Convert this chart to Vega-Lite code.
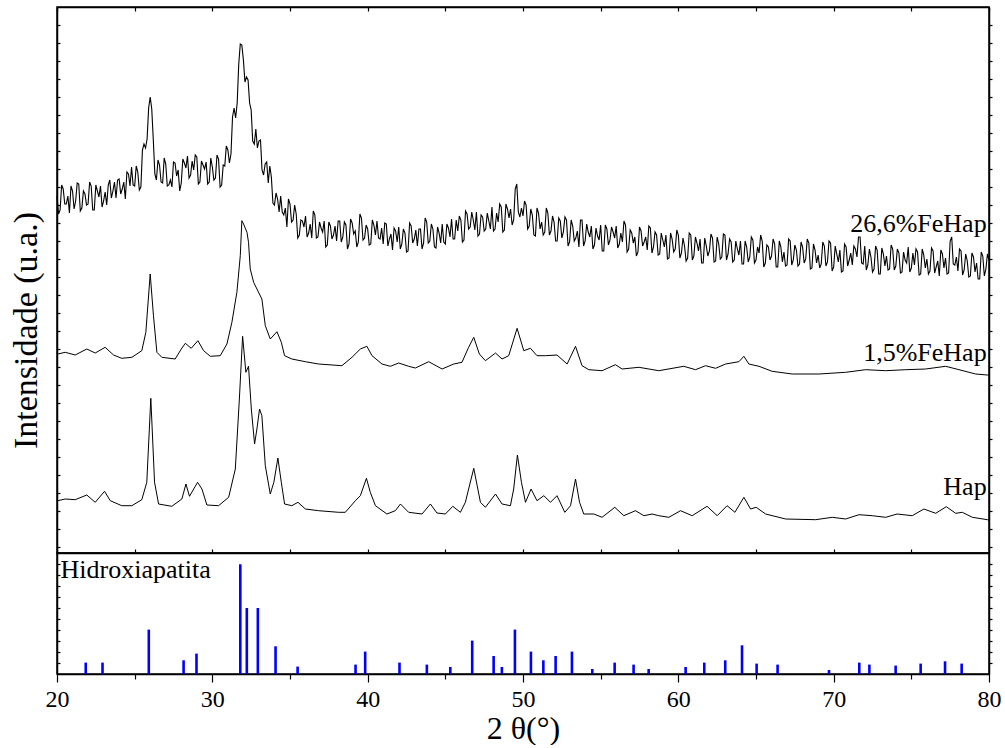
{
  "$schema": "https://vega.github.io/schema/vega-lite/v6.json",
  "background": "white",
  "padding": {"left": 8, "top": 5, "right": 10, "bottom": 0},
  "config": {
    "font": "Liberation Serif",
    "view": {"stroke": "black", "strokeWidth": 1.5},
    "axis": {"grid": false, "domainColor": "black", "domainWidth": 1.5, "tickColor": "black", "tickWidth": 1.2, "labelColor": "black", "titleColor": "black", "labelFont": "Liberation Serif", "titleFont": "Liberation Serif", "titleFontWeight": "normal"}
  },
  "datasets": {
    "hap": [
      {"t":20.0,"i":52},{"t":20.05,"i":52.3},{"t":20.53,"i":54},{"t":21.17,"i":53.3},{"t":21.92,"i":58},{"t":22.46,"i":50.7},{"t":23.06,"i":61.7},{"t":23.43,"i":52.3},{"t":24.17,"i":47.3},{"t":24.82,"i":47.3},{"t":25.46,"i":53.3},{"t":25.78,"i":70.7},{"t":26.04,"i":154.7},{"t":26.28,"i":70.7},{"t":26.54,"i":49},{"t":27.39,"i":46.7},{"t":28.04,"i":54},{"t":28.30,"i":69},{"t":28.53,"i":56.7},{"t":29.05,"i":70.7},{"t":29.33,"i":64},{"t":29.65,"i":48},{"t":30.40,"i":47.3},{"t":31.05,"i":55.7},{"t":31.48,"i":84},{"t":31.74,"i":154},{"t":31.95,"i":216.7},{"t":32.16,"i":180.7},{"t":32.33,"i":186.7},{"t":32.51,"i":144},{"t":32.72,"i":109},{"t":32.87,"i":124},{"t":33.04,"i":144},{"t":33.19,"i":137.3},{"t":33.41,"i":87.3},{"t":33.73,"i":59},{"t":33.96,"i":70.7},{"t":34.22,"i":95},{"t":34.44,"i":70.7},{"t":34.65,"i":49},{"t":35.12,"i":47.3},{"t":35.51,"i":50.7},{"t":35.99,"i":44},{"t":36.84,"i":42.3},{"t":38.13,"i":40.7},{"t":38.56,"i":40.7},{"t":39.21,"i":52.3},{"t":39.53,"i":57.3},{"t":39.92,"i":74.7},{"t":40.17,"i":60.7},{"t":40.50,"i":47.3},{"t":41.24,"i":39},{"t":41.78,"i":42.3},{"t":42.11,"i":49},{"t":42.64,"i":40.7},{"t":43.50,"i":39},{"t":44.04,"i":49},{"t":44.46,"i":40},{"t":45.00,"i":39},{"t":45.48,"i":46.7},{"t":45.97,"i":40.7},{"t":46.29,"i":50.7},{"t":46.83,"i":84.7},{"t":47.26,"i":50.7},{"t":47.58,"i":45.7},{"t":48.23,"i":59},{"t":48.65,"i":49},{"t":49.19,"i":47.3},{"t":49.40,"i":64},{"t":49.64,"i":98},{"t":49.90,"i":70.7},{"t":50.16,"i":50.7},{"t":50.52,"i":64},{"t":50.90,"i":52.3},{"t":51.34,"i":57.3},{"t":51.77,"i":50.7},{"t":52.19,"i":57.3},{"t":52.69,"i":40.7},{"t":53.06,"i":47.3},{"t":53.38,"i":74},{"t":53.64,"i":50.7},{"t":53.91,"i":39},{"t":54.56,"i":39},{"t":55.09,"i":35.7},{"t":55.91,"i":45.7},{"t":56.49,"i":37.3},{"t":57.24,"i":42.3},{"t":57.78,"i":37.3},{"t":58.31,"i":39},{"t":58.74,"i":37.3},{"t":59.39,"i":35.7},{"t":60.14,"i":42.3},{"t":60.89,"i":37.3},{"t":61.85,"i":46.7},{"t":62.50,"i":37.3},{"t":63.14,"i":47.3},{"t":63.64,"i":40.7},{"t":64.22,"i":55.7},{"t":64.65,"i":44},{"t":65.01,"i":45.7},{"t":65.62,"i":39},{"t":66.91,"i":34},{"t":68.84,"i":33.3},{"t":69.91,"i":35.7},{"t":70.77,"i":34},{"t":71.63,"i":38.3},{"t":72.48,"i":37.3},{"t":73.35,"i":35.7},{"t":74.09,"i":39},{"t":75.06,"i":37.3},{"t":75.81,"i":44},{"t":76.57,"i":39.7},{"t":77.25,"i":46.3},{"t":77.86,"i":39.7},{"t":78.28,"i":40.7},{"t":78.93,"i":35.7},{"t":79.89,"i":33.3},{"t":80.0,"i":33}
    ],
    "fe15": [
      {"t":20.0,"i":199},{"t":20.05,"i":199},{"t":20.53,"i":200.7},{"t":21.17,"i":198},{"t":21.92,"i":204},{"t":22.46,"i":200},{"t":23.10,"i":205.7},{"t":23.64,"i":198},{"t":24.17,"i":194.7},{"t":24.82,"i":195.7},{"t":25.46,"i":202.3},{"t":25.72,"i":220.7},{"t":26.00,"i":279},{"t":26.21,"i":237.3},{"t":26.43,"i":200.7},{"t":26.75,"i":195.7},{"t":27.61,"i":194},{"t":28.00,"i":204},{"t":28.26,"i":209.7},{"t":28.64,"i":204.7},{"t":29.07,"i":212.3},{"t":29.44,"i":202.3},{"t":29.87,"i":196.7},{"t":30.51,"i":197.3},{"t":30.94,"i":209},{"t":31.26,"i":230.7},{"t":31.58,"i":260.7},{"t":31.80,"i":297.3},{"t":31.90,"i":332.3},{"t":32.01,"i":329},{"t":32.23,"i":320.7},{"t":32.33,"i":310.7},{"t":32.44,"i":284},{"t":32.66,"i":270.7},{"t":32.87,"i":264},{"t":33.19,"i":254},{"t":33.41,"i":227.3},{"t":33.73,"i":214},{"t":34.16,"i":221.3},{"t":34.44,"i":210.7},{"t":34.65,"i":197.3},{"t":35.12,"i":194},{"t":35.99,"i":191.3},{"t":36.84,"i":189},{"t":38.34,"i":187.3},{"t":38.99,"i":195.7},{"t":39.53,"i":204},{"t":39.95,"i":206.7},{"t":40.28,"i":197.3},{"t":40.92,"i":189},{"t":41.46,"i":186.7},{"t":42.00,"i":190},{"t":42.64,"i":186.7},{"t":43.07,"i":185},{"t":43.93,"i":191.3},{"t":44.79,"i":184},{"t":45.54,"i":189},{"t":46.07,"i":190.7},{"t":46.50,"i":205.7},{"t":46.83,"i":215.7},{"t":47.19,"i":199},{"t":47.58,"i":192.3},{"t":48.23,"i":200},{"t":48.65,"i":194},{"t":49.08,"i":197.3},{"t":49.62,"i":224.7},{"t":50.05,"i":202.3},{"t":50.48,"i":204.7},{"t":50.90,"i":197.3},{"t":51.45,"i":197.3},{"t":52.19,"i":198},{"t":52.84,"i":189},{"t":53.38,"i":206.7},{"t":53.80,"i":187.3},{"t":54.24,"i":183.3},{"t":55.09,"i":182.3},{"t":55.95,"i":188.3},{"t":56.38,"i":184},{"t":57.46,"i":185.7},{"t":58.74,"i":182.3},{"t":60.35,"i":186.7},{"t":61.11,"i":183.3},{"t":61.75,"i":187.3},{"t":62.40,"i":184.7},{"t":63.04,"i":189},{"t":63.90,"i":191.3},{"t":64.22,"i":196.7},{"t":64.54,"i":189},{"t":65.19,"i":186.7},{"t":66.04,"i":181.7},{"t":67.33,"i":179},{"t":69.05,"i":179},{"t":70.77,"i":180.7},{"t":72.06,"i":183.3},{"t":73.35,"i":182.3},{"t":74.64,"i":183.3},{"t":75.92,"i":184},{"t":77.21,"i":186.7},{"t":78.07,"i":183.3},{"t":79.14,"i":179},{"t":79.89,"i":178},{"t":80.0,"i":178}
    ],
    "fe266": [
      {"t":20.0,"i":357},{"t":20.1,"i":339},{"t":20.2,"i":343},{"t":20.3,"i":368},{"t":20.4,"i":364},{"t":20.5,"i":349},{"t":20.6,"i":349},{"t":20.7,"i":357},{"t":20.8,"i":340},{"t":20.9,"i":367},
      {"t":21.0,"i":362},{"t":21.1,"i":344},{"t":21.2,"i":352},{"t":21.3,"i":370},{"t":21.4,"i":369},{"t":21.5,"i":342},{"t":21.6,"i":345},{"t":21.7,"i":362},{"t":21.8,"i":359},{"t":21.9,"i":348},
      {"t":22.0,"i":349},{"t":22.1,"i":371},{"t":22.2,"i":367},{"t":22.3,"i":343},{"t":22.4,"i":343},{"t":22.5,"i":368},{"t":22.6,"i":362},{"t":22.7,"i":356},{"t":22.8,"i":367},{"t":22.9,"i":346},
      {"t":23.0,"i":352},{"t":23.1,"i":361},{"t":23.2,"i":348},{"t":23.3,"i":368},{"t":23.4,"i":373},{"t":23.5,"i":355},{"t":23.6,"i":362},{"t":23.7,"i":371},{"t":23.8,"i":355},{"t":23.9,"i":373},
      {"t":24.0,"i":374},{"t":24.1,"i":359},{"t":24.2,"i":364},{"t":24.3,"i":371},{"t":24.4,"i":354},{"t":24.5,"i":381},{"t":24.6,"i":379},{"t":24.7,"i":367},{"t":24.8,"i":386},{"t":24.9,"i":368},
      {"t":25.0,"i":367},{"t":25.1,"i":387},{"t":25.2,"i":381},{"t":25.3,"i":363},{"t":25.4,"i":366},{"t":25.5,"i":403},{"t":25.6,"i":409},{"t":25.7,"i":405},{"t":25.8,"i":414},{"t":25.9,"i":445},
      {"t":26.0,"i":456},{"t":26.1,"i":444},{"t":26.2,"i":413},{"t":26.3,"i":379},{"t":26.4,"i":373},{"t":26.5,"i":393},{"t":26.6,"i":388},{"t":26.7,"i":371},{"t":26.8,"i":370},{"t":26.9,"i":395},
      {"t":27.0,"i":389},{"t":27.1,"i":367},{"t":27.2,"i":368},{"t":27.3,"i":373},{"t":27.4,"i":366},{"t":27.5,"i":391},{"t":27.6,"i":390},{"t":27.7,"i":377},{"t":27.8,"i":383},{"t":27.9,"i":362},
      {"t":28.0,"i":370},{"t":28.1,"i":394},{"t":28.2,"i":390},{"t":28.3,"i":385},{"t":28.4,"i":397},{"t":28.5,"i":375},{"t":28.6,"i":378},{"t":28.7,"i":392},{"t":28.8,"i":383},{"t":28.9,"i":398},
      {"t":29.0,"i":396},{"t":29.1,"i":369},{"t":29.2,"i":371},{"t":29.3,"i":392},{"t":29.4,"i":388},{"t":29.5,"i":384},{"t":29.6,"i":391},{"t":29.7,"i":369},{"t":29.8,"i":371},{"t":29.9,"i":395},
      {"t":30.0,"i":386},{"t":30.1,"i":373},{"t":30.2,"i":375},{"t":30.3,"i":398},{"t":30.4,"i":394},{"t":30.5,"i":366},{"t":30.6,"i":368},{"t":30.7,"i":388},{"t":30.8,"i":387},{"t":30.9,"i":407},
      {"t":31.0,"i":403},{"t":31.1,"i":390},{"t":31.2,"i":399},{"t":31.3,"i":436},{"t":31.4,"i":445},{"t":31.5,"i":435},{"t":31.6,"i":450},{"t":31.7,"i":489},{"t":31.8,"i":509},{"t":31.9,"i":508},
      {"t":32.0,"i":493},{"t":32.1,"i":471},{"t":32.2,"i":476},{"t":32.3,"i":473},{"t":32.4,"i":450},{"t":32.5,"i":443},{"t":32.6,"i":412},{"t":32.7,"i":409},{"t":32.8,"i":424},{"t":32.9,"i":405},
      {"t":33.0,"i":412},{"t":33.1,"i":413},{"t":33.2,"i":383},{"t":33.3,"i":378},{"t":33.4,"i":389},{"t":33.5,"i":391},{"t":33.6,"i":370},{"t":33.7,"i":387},{"t":33.8,"i":376},{"t":33.9,"i":350},
      {"t":34.0,"i":348},{"t":34.1,"i":360},{"t":34.2,"i":354},{"t":34.3,"i":341},{"t":34.4,"i":357},{"t":34.5,"i":341},{"t":34.6,"i":338},{"t":34.7,"i":345},{"t":34.8,"i":326},{"t":34.9,"i":354},
      {"t":35.0,"i":349},{"t":35.1,"i":331},{"t":35.2,"i":333},{"t":35.3,"i":348},{"t":35.4,"i":339},{"t":35.5,"i":315},{"t":35.6,"i":318},{"t":35.7,"i":333},{"t":35.8,"i":332},{"t":35.9,"i":326},
      {"t":36.0,"i":337},{"t":36.1,"i":316},{"t":36.2,"i":320},{"t":36.3,"i":329},{"t":36.4,"i":315},{"t":36.5,"i":342},{"t":36.6,"i":338},{"t":36.7,"i":315},{"t":36.8,"i":316},{"t":36.9,"i":331},
      {"t":37.0,"i":325},{"t":37.1,"i":321},{"t":37.2,"i":332},{"t":37.3,"i":306},{"t":37.4,"i":308},{"t":37.5,"i":331},{"t":37.6,"i":327},{"t":37.7,"i":314},{"t":37.8,"i":318},{"t":37.9,"i":327},
      {"t":38.0,"i":312},{"t":38.1,"i":332},{"t":38.2,"i":332},{"t":38.3,"i":311},{"t":38.4,"i":316},{"t":38.5,"i":331},{"t":38.6,"i":328},{"t":38.7,"i":304},{"t":38.8,"i":309},{"t":38.9,"i":334},
      {"t":39.0,"i":330},{"t":39.1,"i":319},{"t":39.2,"i":322},{"t":39.3,"i":306},{"t":39.4,"i":311},{"t":39.5,"i":339},{"t":39.6,"i":335},{"t":39.7,"i":313},{"t":39.8,"i":315},{"t":39.9,"i":328},
      {"t":40.0,"i":324},{"t":40.1,"i":308},{"t":40.2,"i":309},{"t":40.3,"i":333},{"t":40.4,"i":328},{"t":40.5,"i":318},{"t":40.6,"i":332},{"t":40.7,"i":315},{"t":40.8,"i":314},{"t":40.9,"i":325},
      {"t":41.0,"i":309},{"t":41.1,"i":330},{"t":41.2,"i":329},{"t":41.3,"i":307},{"t":41.4,"i":314},{"t":41.5,"i":319},{"t":41.6,"i":303},{"t":41.7,"i":325},{"t":41.8,"i":322},{"t":41.9,"i":311},
      {"t":42.0,"i":326},{"t":42.1,"i":304},{"t":42.2,"i":309},{"t":42.3,"i":324},{"t":42.4,"i":320},{"t":42.5,"i":301},{"t":42.6,"i":302},{"t":42.7,"i":330},{"t":42.8,"i":327},{"t":42.9,"i":310},
      {"t":43.0,"i":314},{"t":43.1,"i":323},{"t":43.2,"i":307},{"t":43.3,"i":324},{"t":43.4,"i":324},{"t":43.5,"i":304},{"t":43.6,"i":310},{"t":43.7,"i":335},{"t":43.8,"i":331},{"t":43.9,"i":310},
      {"t":44.0,"i":312},{"t":44.1,"i":329},{"t":44.2,"i":324},{"t":44.3,"i":306},{"t":44.4,"i":305},{"t":44.5,"i":326},{"t":44.6,"i":320},{"t":44.7,"i":310},{"t":44.8,"i":329},{"t":44.9,"i":311},
      {"t":45.0,"i":309},{"t":45.1,"i":329},{"t":45.2,"i":325},{"t":45.3,"i":316},{"t":45.4,"i":334},{"t":45.5,"i":314},{"t":45.6,"i":314},{"t":45.7,"i":333},{"t":45.8,"i":322},{"t":45.9,"i":337},
      {"t":46.0,"i":333},{"t":46.1,"i":311},{"t":46.2,"i":313},{"t":46.3,"i":342},{"t":46.4,"i":339},{"t":46.5,"i":324},{"t":46.6,"i":326},{"t":46.7,"i":341},{"t":46.8,"i":333},{"t":46.9,"i":323},
      {"t":47.0,"i":341},{"t":47.1,"i":317},{"t":47.2,"i":319},{"t":47.3,"i":338},{"t":47.4,"i":336},{"t":47.5,"i":322},{"t":47.6,"i":324},{"t":47.7,"i":340},{"t":47.8,"i":332},{"t":47.9,"i":324},
      {"t":48.0,"i":346},{"t":48.1,"i":322},{"t":48.2,"i":324},{"t":48.3,"i":340},{"t":48.4,"i":331},{"t":48.5,"i":349},{"t":48.6,"i":346},{"t":48.7,"i":321},{"t":48.8,"i":323},{"t":48.9,"i":349},
      {"t":49.0,"i":344},{"t":49.1,"i":335},{"t":49.2,"i":344},{"t":49.3,"i":328},{"t":49.4,"i":333},{"t":49.5,"i":364},{"t":49.6,"i":369},{"t":49.7,"i":341},{"t":49.8,"i":336},{"t":49.9,"i":345},
      {"t":50.0,"i":337},{"t":50.1,"i":352},{"t":50.2,"i":348},{"t":50.3,"i":324},{"t":50.4,"i":327},{"t":50.5,"i":344},{"t":50.6,"i":338},{"t":50.7,"i":318},{"t":50.8,"i":317},{"t":50.9,"i":345},
      {"t":51.0,"i":340},{"t":51.1,"i":324},{"t":51.2,"i":331},{"t":51.3,"i":318},{"t":51.4,"i":321},{"t":51.5,"i":345},{"t":51.6,"i":340},{"t":51.7,"i":318},{"t":51.8,"i":322},{"t":51.9,"i":337},
      {"t":52.0,"i":331},{"t":52.1,"i":312},{"t":52.2,"i":312},{"t":52.3,"i":335},{"t":52.4,"i":332},{"t":52.5,"i":315},{"t":52.6,"i":321},{"t":52.7,"i":336},{"t":52.8,"i":333},{"t":52.9,"i":307},
      {"t":53.0,"i":311},{"t":53.1,"i":333},{"t":53.2,"i":327},{"t":53.3,"i":312},{"t":53.4,"i":315},{"t":53.5,"i":322},{"t":53.6,"i":306},{"t":53.7,"i":333},{"t":53.8,"i":333},{"t":53.9,"i":307},
      {"t":54.0,"i":312},{"t":54.1,"i":329},{"t":54.2,"i":321},{"t":54.3,"i":316},{"t":54.4,"i":327},{"t":54.5,"i":304},{"t":54.6,"i":308},{"t":54.7,"i":325},{"t":54.8,"i":317},{"t":54.9,"i":313},
      {"t":55.0,"i":328},{"t":55.1,"i":302},{"t":55.2,"i":302},{"t":55.3,"i":328},{"t":55.4,"i":324},{"t":55.5,"i":308},{"t":55.6,"i":313},{"t":55.7,"i":326},{"t":55.8,"i":321},{"t":55.9,"i":315},
      {"t":56.0,"i":327},{"t":56.1,"i":305},{"t":56.2,"i":309},{"t":56.3,"i":320},{"t":56.4,"i":311},{"t":56.5,"i":332},{"t":56.6,"i":328},{"t":56.7,"i":301},{"t":56.8,"i":304},{"t":56.9,"i":323},
      {"t":57.0,"i":320},{"t":57.1,"i":310},{"t":57.2,"i":316},{"t":57.3,"i":297},{"t":57.4,"i":301},{"t":57.5,"i":326},{"t":57.6,"i":322},{"t":57.7,"i":307},{"t":57.8,"i":311},{"t":57.9,"i":316},
      {"t":58.0,"i":303},{"t":58.1,"i":327},{"t":58.2,"i":325},{"t":58.3,"i":300},{"t":58.4,"i":306},{"t":58.5,"i":321},{"t":58.6,"i":318},{"t":58.7,"i":298},{"t":58.8,"i":299},{"t":58.9,"i":320},
      {"t":59.0,"i":313},{"t":59.1,"i":306},{"t":59.2,"i":318},{"t":59.3,"i":294},{"t":59.4,"i":295},{"t":59.5,"i":320},{"t":59.6,"i":314},{"t":59.7,"i":301},{"t":59.8,"i":304},{"t":59.9,"i":323},
      {"t":60.0,"i":318},{"t":60.1,"i":295},{"t":60.2,"i":300},{"t":60.3,"i":315},{"t":60.4,"i":307},{"t":60.5,"i":292},{"t":60.6,"i":295},{"t":60.7,"i":320},{"t":60.8,"i":318},{"t":60.9,"i":293},
      {"t":61.0,"i":297},{"t":61.1,"i":316},{"t":61.2,"i":310},{"t":61.3,"i":302},{"t":61.4,"i":314},{"t":61.5,"i":290},{"t":61.6,"i":290},{"t":61.7,"i":315},{"t":61.8,"i":307},{"t":61.9,"i":297},
      {"t":62.0,"i":302},{"t":62.1,"i":319},{"t":62.2,"i":315},{"t":62.3,"i":291},{"t":62.4,"i":292},{"t":62.5,"i":316},{"t":62.6,"i":309},{"t":62.7,"i":294},{"t":62.8,"i":296},{"t":62.9,"i":319},
      {"t":63.0,"i":318},{"t":63.1,"i":293},{"t":63.2,"i":299},{"t":63.3,"i":314},{"t":63.4,"i":311},{"t":63.5,"i":291},{"t":63.6,"i":293},{"t":63.7,"i":312},{"t":63.8,"i":304},{"t":63.9,"i":298},
      {"t":64.0,"i":312},{"t":64.1,"i":289},{"t":64.2,"i":289},{"t":64.3,"i":312},{"t":64.4,"i":306},{"t":64.5,"i":291},{"t":64.6,"i":296},{"t":64.7,"i":316},{"t":64.8,"i":313},{"t":64.9,"i":290},
      {"t":65.0,"i":293},{"t":65.1,"i":306},{"t":65.2,"i":300},{"t":65.3,"i":318},{"t":65.4,"i":312},{"t":65.5,"i":286},{"t":65.6,"i":290},{"t":65.7,"i":308},{"t":65.8,"i":306},{"t":65.9,"i":293},
      {"t":66.0,"i":297},{"t":66.1,"i":314},{"t":66.2,"i":309},{"t":66.3,"i":286},{"t":66.4,"i":286},{"t":66.5,"i":312},{"t":66.6,"i":306},{"t":66.7,"i":291},{"t":66.8,"i":301},{"t":66.9,"i":287},
      {"t":67.0,"i":288},{"t":67.1,"i":314},{"t":67.2,"i":312},{"t":67.3,"i":288},{"t":67.4,"i":293},{"t":67.5,"i":308},{"t":67.6,"i":303},{"t":67.7,"i":287},{"t":67.8,"i":289},{"t":67.9,"i":311},
      {"t":68.0,"i":306},{"t":68.1,"i":290},{"t":68.2,"i":294},{"t":68.3,"i":314},{"t":68.4,"i":310},{"t":68.5,"i":284},{"t":68.6,"i":285},{"t":68.7,"i":309},{"t":68.8,"i":303},{"t":68.9,"i":290},
      {"t":69.0,"i":298},{"t":69.1,"i":285},{"t":69.2,"i":289},{"t":69.3,"i":311},{"t":69.4,"i":307},{"t":69.5,"i":287},{"t":69.6,"i":291},{"t":69.7,"i":312},{"t":69.8,"i":310},{"t":69.9,"i":282},
      {"t":70.0,"i":286},{"t":70.1,"i":307},{"t":70.2,"i":299},{"t":70.3,"i":291},{"t":70.4,"i":303},{"t":70.5,"i":281},{"t":70.6,"i":282},{"t":70.7,"i":309},{"t":70.8,"i":306},{"t":70.9,"i":287},
      {"t":71.0,"i":293},{"t":71.1,"i":300},{"t":71.2,"i":288},{"t":71.3,"i":307},{"t":71.4,"i":304},{"t":71.5,"i":296},{"t":71.6,"i":316},{"t":71.7,"i":316},{"t":71.8,"i":290},{"t":71.9,"i":289},
      {"t":72.0,"i":307},{"t":72.1,"i":283},{"t":72.2,"i":288},{"t":72.3,"i":304},{"t":72.4,"i":296},{"t":72.5,"i":281},{"t":72.6,"i":284},{"t":72.7,"i":307},{"t":72.8,"i":303},{"t":72.9,"i":279},
      {"t":73.0,"i":279},{"t":73.1,"i":305},{"t":73.2,"i":299},{"t":73.3,"i":287},{"t":73.4,"i":297},{"t":73.5,"i":283},{"t":73.6,"i":284},{"t":73.7,"i":308},{"t":73.8,"i":304},{"t":73.9,"i":283},
      {"t":74.0,"i":287},{"t":74.1,"i":304},{"t":74.2,"i":300},{"t":74.3,"i":280},{"t":74.4,"i":281},{"t":74.5,"i":301},{"t":74.6,"i":293},{"t":74.7,"i":290},{"t":74.8,"i":306},{"t":74.9,"i":281},
      {"t":75.0,"i":285},{"t":75.1,"i":300},{"t":75.2,"i":288},{"t":75.3,"i":304},{"t":75.4,"i":301},{"t":75.5,"i":278},{"t":75.6,"i":279},{"t":75.7,"i":304},{"t":75.8,"i":298},{"t":75.9,"i":285},
      {"t":76.0,"i":294},{"t":76.1,"i":279},{"t":76.2,"i":282},{"t":76.3,"i":305},{"t":76.4,"i":302},{"t":76.5,"i":280},{"t":76.6,"i":286},{"t":76.7,"i":292},{"t":76.8,"i":277},{"t":76.9,"i":303},
      {"t":77.0,"i":299},{"t":77.1,"i":285},{"t":77.2,"i":295},{"t":77.3,"i":279},{"t":77.4,"i":280},{"t":77.5,"i":312},{"t":77.6,"i":316},{"t":77.7,"i":289},{"t":77.8,"i":288},{"t":77.9,"i":296},
      {"t":78.0,"i":282},{"t":78.1,"i":304},{"t":78.2,"i":302},{"t":78.3,"i":278},{"t":78.4,"i":283},{"t":78.5,"i":299},{"t":78.6,"i":292},{"t":78.7,"i":276},{"t":78.8,"i":277},{"t":78.9,"i":300},
      {"t":79.0,"i":296},{"t":79.1,"i":281},{"t":79.2,"i":290},{"t":79.3,"i":274},{"t":79.4,"i":274},{"t":79.5,"i":301},{"t":79.6,"i":297},{"t":79.7,"i":277},{"t":79.8,"i":284},{"t":79.9,"i":299},
      {"t":80.0,"i":293}
    ],
    "labels": [
      {"t":79.85,"i":321,"label":"26,6%FeHap"},
      {"t":79.85,"i":192,"label":"1,5%FeHap"},
      {"t":79.85,"i":58,"label":"Hap"}
    ],
    "sticks": [
      {"t":21.85,"h":11.4,"b":0},{"t":22.93,"h":11.4,"b":0},{"t":25.91,"h":44.4,"b":0},{"t":28.15,"h":13.7,"b":0},{"t":28.98,"h":20.4,"b":0},{"t":31.80,"h":109.7,"b":0},{"t":32.22,"h":66,"b":0},{"t":32.93,"h":66,"b":0},{"t":34.07,"h":27.7,"b":0},{"t":35.49,"h":7.4,"b":0},
      {"t":39.22,"h":9.4,"b":0},{"t":39.84,"h":22.4,"b":0},{"t":42.05,"h":11.4,"b":0},{"t":43.81,"h":9.4,"b":0},{"t":45.32,"h":7,"b":0},{"t":46.73,"h":33.4,"b":0},{"t":48.11,"h":18,"b":0},{"t":48.64,"h":7,"b":0},{"t":49.48,"h":44.4,"b":0},{"t":50.51,"h":22.4,"b":0},{"t":51.31,"h":13.7,"b":0},{"t":52.10,"h":18,"b":0},{"t":53.15,"h":22.4,"b":0},{"t":54.46,"h":5,"b":0},{"t":55.90,"h":11.4,"b":0},{"t":57.12,"h":9.4,"b":0},{"t":58.09,"h":5,"b":0},
      {"t":60.47,"h":7,"b":0},{"t":61.67,"h":11.4,"b":0},{"t":63.02,"h":13.7,"b":0},{"t":64.10,"h":28.7,"b":0},{"t":65.04,"h":10.4,"b":0},{"t":66.39,"h":9.4,"b":0},{"t":69.70,"h":4,"b":0},{"t":71.65,"h":11.4,"b":0},{"t":72.30,"h":9.4,"b":0},{"t":73.99,"h":8.4,"b":0},{"t":75.60,"h":10.4,"b":0},{"t":77.17,"h":12.7,"b":0},{"t":78.24,"h":10.4,"b":0}
    ],
    "ref": [
      {"t":20.23,"i":96,"label":"Hidroxiapatita"}
    ]
  },
  "vconcat": [
    {
      "width": 932,
      "height": 546,
      "layer": [
        {
          "data": {"name": "fe266"},
          "mark": {"type": "line", "color": "black", "strokeWidth": 1.1},
          "encoding": {
            "x": {"field": "t", "type": "quantitative", "scale": {"domain": [20, 80], "nice": false, "zero": false},
              "axis": {"orient": "bottom", "values": [20,25,30,35,40,45,50,55,60,65,70,75,80], "labels": false, "tickSize": -4, "title": null}},
            "y": {"field": "i", "type": "quantitative", "scale": {"domain": [0, 546], "nice": false, "zero": false},
              "axis": {"orient": "left", "values": [6,24,42,60,78,96,114,132,150,168,186,204,222,240,258,276,294,312,330,348,366,384,402,420,438,456,474,492,510,528], "labels": false, "tickSize": -3,
                "title": "Intensidade (u.a.)", "titleFont": "Liberation Serif", "titleFontWeight": "normal", "titleFontSize": 34, "titleAngle": -90, "titleAlign": "center", "titleBaseline": "alphabetic", "titleX": -21, "titleY": 323}}
          }
        },
        {
          "data": {"name": "fe15"},
          "mark": {"type": "line", "color": "black", "strokeWidth": 1},
          "encoding": {
            "x": {"field": "t", "type": "quantitative", "scale": {"domain": [20, 80], "nice": false, "zero": false}, "axis": null},
            "y": {"field": "i", "type": "quantitative", "scale": {"domain": [0, 546], "nice": false, "zero": false}, "axis": null}
          }
        },
        {
          "data": {"name": "hap"},
          "mark": {"type": "line", "color": "black", "strokeWidth": 1},
          "encoding": {
            "x": {"field": "t", "type": "quantitative", "scale": {"domain": [20, 80], "nice": false, "zero": false}, "axis": null},
            "y": {"field": "i", "type": "quantitative", "scale": {"domain": [0, 546], "nice": false, "zero": false}, "axis": null}
          }
        },
        {
          "data": {"name": "labels"},
          "mark": {"type": "text", "align": "right", "baseline": "alphabetic", "font": "Liberation Serif", "fontSize": 26, "color": "black"},
          "encoding": {
            "x": {"field": "t", "type": "quantitative", "scale": {"domain": [20, 80], "nice": false, "zero": false},
              "axis": {"orient": "top", "values": [20,25,30,35,40,45,50,55,60,65,70,75,80], "labels": false, "tickSize": -4, "title": null}},
            "y": {"field": "i", "type": "quantitative", "scale": {"domain": [0, 546], "nice": false, "zero": false},
              "axis": {"orient": "right", "values": [6,24,42,60,78,96,114,132,150,168,186,204,222,240,258,276,294,312,330,348,366,384,402,420,438,456,474,492,510,528], "labels": false, "tickSize": 3, "title": null}},
            "text": {"field": "label"}
          }
        }
      ],
      "resolve": {"axis": {"x": "independent", "y": "independent"}}
    },
    {
      "width": 932,
      "height": 121,
      "layer": [
        {
          "data": {"name": "sticks"},
          "mark": {"type": "rule", "color": "#0000ff", "strokeWidth": 2.6},
          "encoding": {
            "x": {"field": "t", "type": "quantitative", "scale": {"domain": [20, 80], "nice": false, "zero": false},
              "axis": {"orient": "bottom", "values": [20,30,40,50,60,70,80], "tickSize": 8,
                "labelFont": "Liberation Serif", "labelFontSize": 24, "labelPadding": 5, "labelFlush": false,
                "title": "2 θ(°)", "titleFont": "Liberation Serif", "titleFontWeight": "normal", "titleFontSize": 32, "titleBaseline": "alphabetic", "titleY": 64}},
            "y": {"field": "h", "type": "quantitative", "scale": {"domain": [0, 121], "nice": false, "zero": false},
              "axis": {"orient": "left", "values": [11,22,33,44,55,66,77,88,99,110], "labels": false, "tickSize": -3, "title": null}},
            "y2": {"field": "b"}
          }
        },
        {
          "data": {"name": "ref"},
          "mark": {"type": "text", "align": "left", "baseline": "alphabetic", "font": "Liberation Serif", "fontSize": 26, "color": "black"},
          "encoding": {
            "x": {"field": "t", "type": "quantitative", "scale": {"domain": [20, 80], "nice": false, "zero": false},
              "axis": {"orient": "bottom", "values": [25,35,45,55,65,75], "tickSize": 5, "labels": false, "domain": false, "title": null}},
            "y": {"field": "i", "type": "quantitative", "scale": {"domain": [0, 121], "nice": false, "zero": false},
              "axis": {"orient": "right", "values": [11,22,33,44,55,66,77,88,99,110], "labels": false, "tickSize": 3, "title": null}},
            "text": {"field": "label"}
          }
        }
      ],
      "resolve": {"axis": {"x": "independent", "y": "independent"}}
    }
  ],
  "spacing": 0,
  "bounds": "flush"
}
